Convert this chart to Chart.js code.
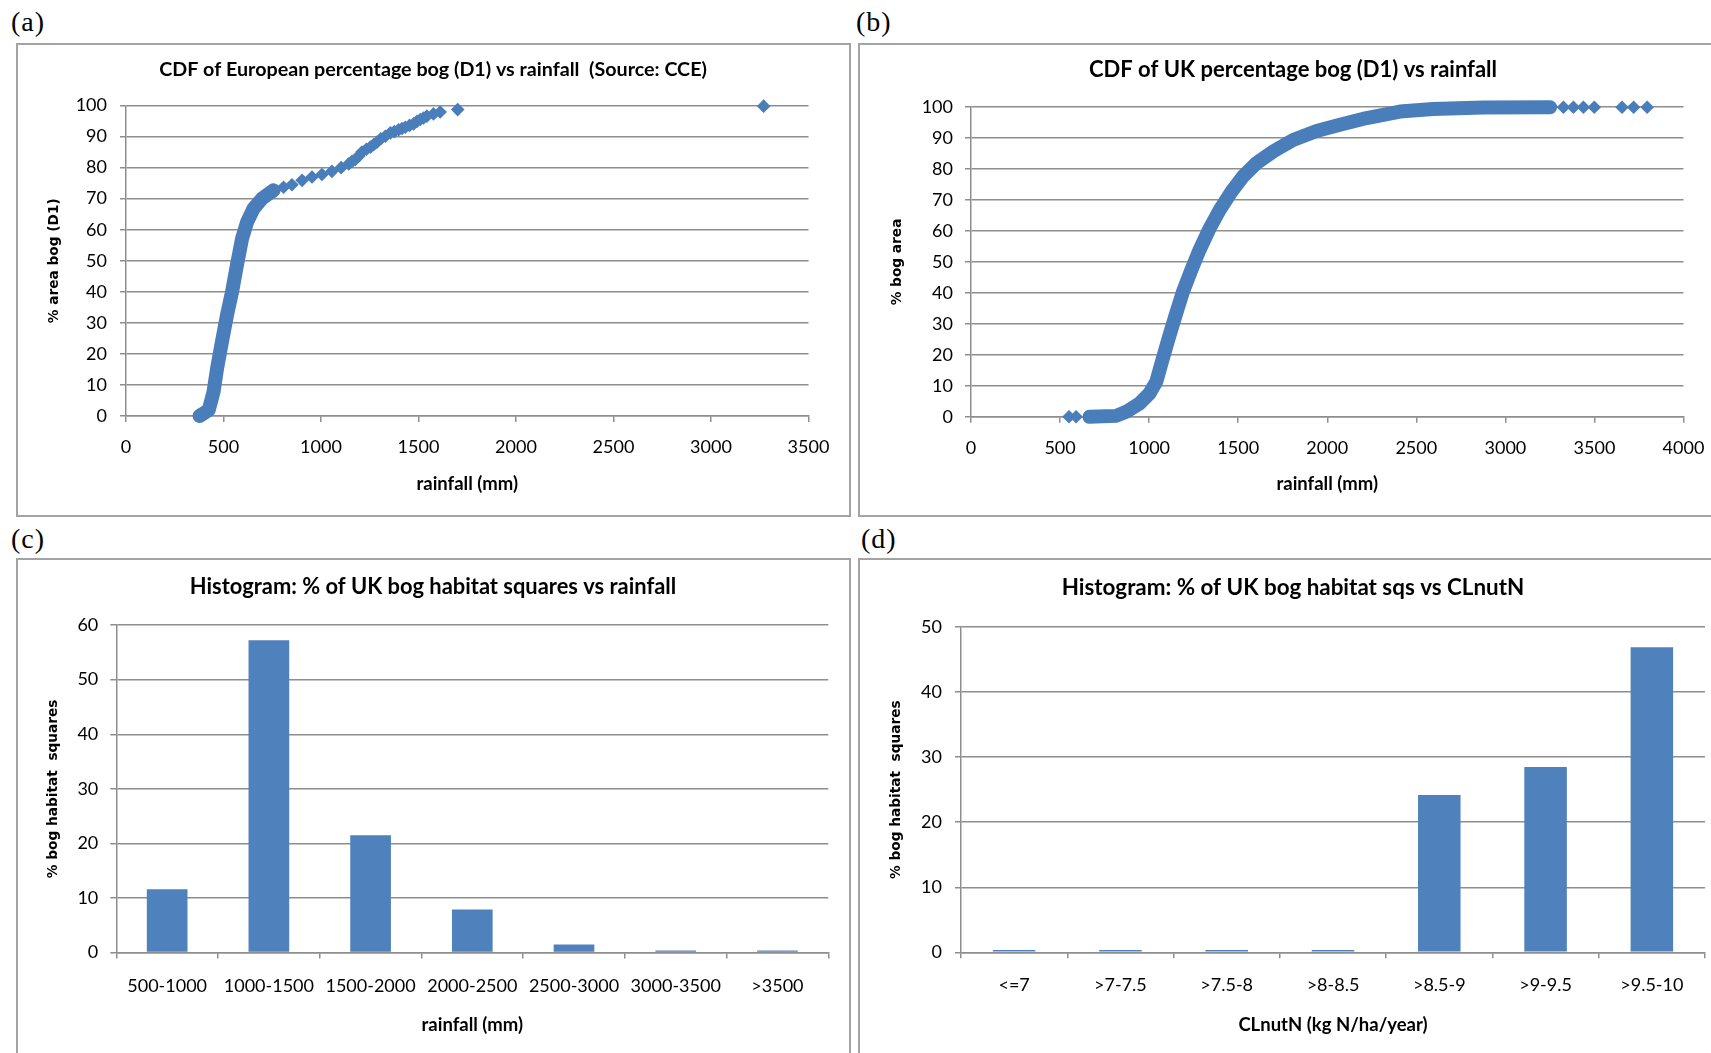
<!DOCTYPE html>
<html>
<head>
<meta charset="utf-8">
<title>Bog habitat vs rainfall</title>
<script src="https://cdn.jsdelivr.net/npm/chart.js@4.4.1/dist/chart.umd.min.js"></script>
<style>
  html, body { margin: 0; padding: 0; background: #fff; width: 1711px; height: 1053px; overflow: hidden; position: relative; }
  .panel { position: absolute; box-sizing: border-box; border: 2px solid #a3a3a3; }
  .tag { position: absolute; font-family: "Liberation Serif", "DejaVu Serif", serif; font-size: 28px; line-height: 28px; color: #000; letter-spacing: 1px; }
  canvas { position: absolute; }
</style>
</head>
<body>
<div class="tag" style="left:11px;top:8px">(a)</div>
<div class="tag" style="left:856px;top:8px">(b)</div>
<div class="tag" style="left:11px;top:525px">(c)</div>
<div class="tag" style="left:861px;top:525px">(d)</div>

<div class="panel" style="left:16px;top:43px;width:835px;height:474px"></div>
<div class="panel" style="left:858px;top:43px;width:900px;height:474px"></div>
<div class="panel" style="left:16px;top:558px;width:835px;height:600px"></div>
<div class="panel" style="left:858px;top:558px;width:900px;height:600px"></div>

<canvas id="chart-eu-cdf" width="834" height="472" style="left:16px;top:44px"></canvas>
<canvas id="chart-uk-cdf" width="868" height="472" style="left:859px;top:44px"></canvas>
<canvas id="chart-rain-hist" width="834" height="494" style="left:16px;top:559px"></canvas>
<canvas id="chart-clnut-hist" width="868" height="494" style="left:859px;top:559px"></canvas>

<script>
// ============================================================
// BOG CHARTS - CDFs and histograms
// ============================================================

// (a) CDF of European percentage bog vs rainfall
const euBandRain = [377, 424, 449, 467, 492, 518, 544, 569, 595, 621, 654, 697, 757];
const euBandPct = [0, 1.9, 7.8, 15.3, 23.9, 32.5, 40, 48.6, 57.1, 62.5, 66.8, 70, 72.7];
const euDotRain = [808, 851, 903, 954, 1005, 1056, 1103, 1142, 1159, 1176, 1193, 1210, 1233, 1253, 1270, 1287, 1307, 1330, 1356, 1376, 1398, 1415, 1432, 1454, 1475, 1492, 1509, 1526, 1543, 1577, 1611, 1701, 3270];
const euDotPct = [73.7, 74.5, 75.9, 77.0, 77.8, 78.8, 80.0, 81.2, 82.0, 82.6, 83.7, 85.0, 85.9, 86.6, 87.4, 88.2, 89.3, 90.1, 91.2, 91.6, 92.2, 92.6, 93.0, 93.6, 94.1, 94.9, 95.5, 96.0, 96.6, 97.3, 97.9, 98.7, 99.8];

// (b) CDF of UK percentage bog vs rainfall
const ukBandRain = [665, 815, 871, 946, 1002, 1040, 1077, 1115, 1152, 1190, 1237, 1283, 1340, 1396, 1462, 1527, 1602, 1696, 1808, 1940, 2071, 2221, 2408, 2594, 2876, 3251];
const ukBandPct = [0, 0.3, 1.6, 4.3, 7.5, 11.3, 18.9, 26.4, 33.4, 40.4, 47.4, 53.9, 60.9, 66.8, 72.7, 77.6, 81.9, 85.7, 89.4, 92.3, 94.3, 96.5, 98.6, 99.4, 99.9, 100];
const ukDotRain = [550, 590, 3326, 3382, 3438, 3499, 3655, 3720, 3796];
const ukDotPct = [0, 0, 100, 100, 100, 100, 100, 100, 100];

// (c) histogram by rainfall band
const rainBands = ["500-1000", "1000-1500", "1500-2000", "2000-2500", "2500-3000", "3000-3500", ">3500"];
const rainShare = [11.6, 57.2, 21.5, 7.9, 1.5, 0.4, 0.4];

// (d) histogram by CLnutN band
const clnutBands = ["<=7", ">7-7.5", ">7.5-8", ">8-8.5", ">8.5-9", ">9-9.5", ">9.5-10"];
const clnutShare = [0.35, 0.35, 0.35, 0.35, 24.2, 28.5, 46.9];

const BLUE = "#4a7ebb";
const BAR_BLUE = "#4f81bd";
const GRID = "#8e8e8e";

function toPoints(xs, ys) {
  return xs.map((x, i) => ({ x: x, y: ys[i] }));
}

function chartTitle(text, size, top, bottom) {
  return {
    display: true,
    text: text,
    color: "#000",
    font: { family: "Lato", size: size, weight: "bold", lineHeight: 1.2 },
    padding: { top: top, bottom: bottom },
  };
}

function xAxisTitle(text, bottom) {
  return {
    display: true,
    text: text,
    color: "#000",
    font: { family: "Lato", size: 18.5, weight: "bold", lineHeight: 1.2 },
    padding: { top: 0, bottom: bottom },
  };
}

function yAxisTitle(text, top) {
  return {
    display: true,
    text: text,
    color: "#000",
    font: { family: "DejaVu Sans", size: 13.7, weight: "bold", lineHeight: 1.2 },
    padding: { top: top, bottom: 0 },
  };
}

function tickStyle(pad) {
  return { color: "#000", font: { family: "Lato", size: 18, lineHeight: 1.2 }, padding: pad };
}

// empty right-hand box so the title stays centred on the whole panel
function spacerAxis(width) {
  return {
    type: "linear",
    position: "right",
    display: true,
    grid: { display: false, drawTicks: false },
    border: { display: false },
    ticks: { display: false },
    afterFit: (s) => { s.width = width; },
  };
}

function baseOptions(o) {
  return {
    responsive: false,
    animation: false,
    layout: { padding: 0 },
    plugins: {
      legend: { display: false },
      tooltip: { enabled: false },
      title: chartTitle(o.title, o.titleSize, o.titleTop, o.titleBottom),
    },
  };
}

function makeCdfChart(id, o) {
  const opts = baseOptions(o);
  opts.scales = {
    x: {
      type: "linear",
      min: 0,
      max: o.xMax,
      ticks: Object.assign(tickStyle(o.xPad), { stepSize: 500, callback: (v) => String(v) }),
      grid: { drawOnChartArea: false, drawTicks: true, tickLength: 6, color: GRID, lineWidth: 1.5 },
      border: { display: true, color: GRID, width: 1.5 },
      title: xAxisTitle("rainfall (mm)", o.xTitleBottom),
      afterFit: (s) => { s.height = o.xHeight; },
    },
    y: {
      min: 0,
      max: 100,
      ticks: Object.assign(tickStyle(o.yPad), { stepSize: 10 }),
      grid: { drawTicks: true, tickLength: 6, color: GRID, lineWidth: 1.5 },
      border: { display: true, color: GRID, width: 1.5 },
      title: yAxisTitle(o.yTitle, o.yTitleTop),
      afterFit: (s) => { s.width = o.yWidth; },
    },
    spacer: spacerAxis(o.padRight),
  };

  const marker = {
    pointStyle: "rectRot",
    pointRadius: 6.8,
    pointHoverRadius: 6.8,
    pointBackgroundColor: BLUE,
    pointBorderColor: BLUE,
    pointBorderWidth: 0,
    clip: false,
  };

  return new Chart(document.getElementById(id), {
    type: "scatter",
    data: {
      datasets: [
        Object.assign({
          data: toPoints(o.bandX, o.bandY),
          showLine: true,
          borderColor: BLUE,
          borderWidth: o.bandWidth,
          borderJoinStyle: "round",
          borderCapStyle: "round",
        }, marker),
        Object.assign({ data: toPoints(o.dotX, o.dotY), showLine: false }, marker),
      ],
    },
    options: opts,
  });
}

function makeHistChart(id, o) {
  const opts = baseOptions(o);
  opts.scales = {
    x: {
      ticks: tickStyle(o.xPad),
      grid: { offset: true, drawOnChartArea: false, drawTicks: true, tickLength: 6, color: GRID, lineWidth: 1.5 },
      border: { display: true, color: GRID, width: 1.5 },
      title: xAxisTitle(o.xTitle, o.xTitleBottom),
      afterFit: (s) => { s.height = o.xHeight; },
    },
    y: {
      min: 0,
      max: o.yMax,
      ticks: Object.assign(tickStyle(o.yPad), { stepSize: 10 }),
      grid: { drawTicks: true, tickLength: 6, color: GRID, lineWidth: 1.5 },
      border: { display: true, color: GRID, width: 1.5 },
      title: yAxisTitle("% bog habitat  squares", o.yTitleTop),
      afterFit: (s) => { s.width = o.yWidth; },
    },
    spacer: spacerAxis(o.padRight),
  };

  return new Chart(document.getElementById(id), {
    type: "bar",
    data: {
      labels: o.labels,
      datasets: [
        {
          data: o.values,
          backgroundColor: BAR_BLUE,
          barPercentage: 0.4,
          categoryPercentage: 1,
        },
      ],
    },
    options: opts,
  });
}

makeCdfChart("chart-eu-cdf", {
  title: "CDF of European percentage bog (D1) vs rainfall  (Source: CCE)",
  titleSize: 19.7, titleTop: 14.2, titleBottom: 23.7,
  padRight: 41.5, xHeight: 100, yWidth: 110,
  xMax: 3500, xPad: 14.6, xTitleBottom: 20.9,
  yPad: 13, yTitle: "% area bog (D1)", yTitleTop: 30.3,
  bandX: euBandRain, bandY: euBandPct, bandWidth: 14,
  dotX: euDotRain, dotY: euDotPct,
});

makeCdfChart("chart-uk-cdf", {
  title: "CDF of UK percentage bog (D1) vs rainfall",
  titleSize: 22, titleTop: 12.8, titleBottom: 24,
  padRight: 43.5, xHeight: 99.2, yWidth: 112,
  xMax: 4000, xPad: 14.6, xTitleBottom: 21.3,
  yPad: 12, yTitle: "% bog area", yTitleTop: 29.8,
  bandX: ukBandRain, bandY: ukBandPct, bandWidth: 14,
  dotX: ukDotRain, dotY: ukDotPct,
});

makeHistChart("chart-rain-hist", {
  title: "Histogram: % of UK bog habitat squares vs rainfall",
  titleSize: 21.9, titleTop: 14.9, titleBottom: 24.9,
  padRight: 21.7, xHeight: 100.4, yWidth: 100.3,
  xTitle: "rainfall (mm)", xPad: 16.4, xTitleBottom: 17.3,
  yPad: 12, yMax: 60, yTitleTop: 29,
  labels: rainBands, values: rainShare,
});

makeHistChart("chart-clnut-hist", {
  title: "Histogram: % of UK bog habitat sqs vs CLnutN",
  titleSize: 22.4, titleTop: 15.6, titleBottom: 25.6,
  padRight: 22, xHeight: 100.7, yWidth: 102,
  xTitle: "CLnutN (kg N/ha/year)", xPad: 16.4, xTitleBottom: 17.3,
  yPad: 13, yMax: 50, yTitleTop: 28.8,
  labels: clnutBands, values: clnutShare,
});
</script>
</body>
</html>
